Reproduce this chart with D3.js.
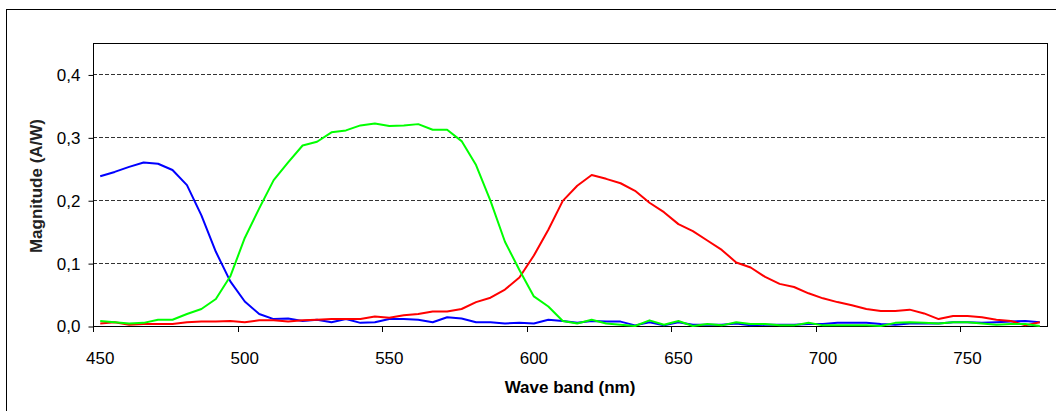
<!DOCTYPE html>
<html>
<head>
<meta charset="utf-8">
<script src="https://cdnjs.cloudflare.com/ajax/libs/d3/7.8.5/d3.min.js"></script>
<style>
  body {margin: 0; background: #fff}
  text {font-family: "Liberation Sans", Arial, sans-serif}
</style>
</head>
<body>
<div id="chart"></div>
<script>
var waveBands = [450, 455, 460, 465, 470, 475, 480, 485, 490, 495,
  500, 505, 510, 515, 520, 525, 530, 535, 540, 545,
  550, 555, 560, 565, 570, 575, 580, 585, 590, 595,
  600, 605, 610, 615, 620, 625, 630, 635, 640, 645,
  650, 655, 660, 665, 670, 675, 680, 685, 690, 695,
  700, 705, 710, 715, 720, 725, 730, 735, 740, 745,
  750, 755, 760, 765, 770, 775]

var blueValues = [0.238, 0.245, 0.253, 0.260, 0.258, 0.248, 0.224, 0.176, 0.118, 0.071,
  0.039, 0.019, 0.011, 0.012, 0.008, 0.010, 0.006, 0.011, 0.005, 0.006,
  0.011, 0.011, 0.010, 0.006, 0.014, 0.012, 0.006, 0.006, 0.004, 0.005,
  0.004, 0.010, 0.008, 0.005, 0.008, 0.007, 0.007, 0.001, 0.006, 0.001,
  0.006, 0.002, 0.002, 0.002, 0.004, 0.001, 0.002, 0.002, 0.002, 0.003,
  0.003, 0.005, 0.005, 0.005, 0.003, 0.002, 0.004, 0.004, 0.004, 0.006,
  0.006, 0.005, 0.006, 0.007, 0.008, 0.006]

var greenValues = [0.008, 0.006, 0.004, 0.005, 0.010, 0.010, 0.019, 0.027, 0.043, 0.079,
  0.140, 0.187, 0.232, 0.260, 0.287, 0.293, 0.308, 0.311, 0.319, 0.322,
  0.318, 0.319, 0.321, 0.312, 0.312, 0.294, 0.256, 0.199, 0.134, 0.089,
  0.047, 0.031, 0.008, 0.004, 0.010, 0.004, 0.002, 0.000, 0.009, 0.002,
  0.008, 0.000, 0.003, 0.001, 0.006, 0.003, 0.003, 0.001, 0.001, 0.005,
  0.001, 0.001, 0.001, 0.001, 0.000, 0.005, 0.006, 0.005, 0.004, 0.006,
  0.006, 0.004, 0.002, 0.003, 0.003, 0.000]

var redValues = [0.004, 0.006, 0.002, 0.003, 0.003, 0.003, 0.006, 0.007, 0.007, 0.008,
  0.006, 0.009, 0.009, 0.007, 0.009, 0.010, 0.011, 0.011, 0.011, 0.015,
  0.013, 0.017, 0.019, 0.023, 0.023, 0.027, 0.038, 0.045, 0.058, 0.077,
  0.112, 0.153, 0.199, 0.223, 0.240, 0.234, 0.227, 0.215, 0.196, 0.181,
  0.162, 0.151, 0.136, 0.121, 0.101, 0.093, 0.078, 0.067, 0.062, 0.052,
  0.044, 0.038, 0.033, 0.027, 0.024, 0.024, 0.026, 0.020, 0.011, 0.016,
  0.016, 0.014, 0.010, 0.008, 0.001, 0.006]

var xTicks = [450, 500, 550, 600, 650, 700, 750]
var yTicks = [0, 0.1, 0.2, 0.3, 0.4]
var yGrid = [0.1, 0.2, 0.3, 0.4]

var series = [
  {name: 'blue', color: '#0000ff', values: blueValues},
  {name: 'red', color: '#ff0000', values: redValues},
  {name: 'green', color: '#00ff00', values: greenValues}
]

var w = 1056, h = 411
var plot = {left: 93, right: 1047, top: 43, bottom: 326}

var svg = d3.select('#chart').append('svg')
    .attr('width', w)
    .attr('height', h)

// outer frame (runs off the right and bottom edges)
svg.append('rect')
    .attr('x', 6.5).attr('y', 9.5)
    .attr('width', 1200).attr('height', 600)
    .attr('fill', 'none').attr('stroke', '#000')

var x = d3.scaleBand().domain(waveBands).range([plot.left, plot.right]).paddingInner(0).paddingOuter(0)
var y = d3.scaleLinear().domain([0, 0.45]).range([plot.bottom, plot.top])
var bw = x.bandwidth()

// dashed grid
svg.append('g').selectAll('line')
  .data(yGrid)
  .enter().append('line')
    .attr('x1', plot.left).attr('x2', plot.right)
    .attr('y1', function(d) {return Math.round(y(d)) + 0.5})
    .attr('y2', function(d) {return Math.round(y(d)) + 0.5})
    .attr('stroke', '#333')
    .attr('stroke-dasharray', '4,2')

// plot frame
svg.append('rect')
    .attr('x', plot.left + 0.5).attr('y', plot.top + 0.5)
    .attr('width', plot.right - plot.left).attr('height', plot.bottom - plot.top)
    .attr('fill', 'none').attr('stroke', '#000')

var fmt = d3.format('.1f')

var yAxis = svg.append('g')
    .attr('transform', 'translate(' + (plot.left + 0.5) + ',0.5)')
    .call(d3.axisLeft(y).tickValues(yTicks).tickSize(5).tickPadding(8)
      .tickFormat(function(d) {return fmt(d).replace('.', ',')}))
yAxis.select('.domain').remove()
yAxis.selectAll('line').attr('stroke', '#000')
yAxis.selectAll('text').attr('font-size', 17).attr('fill', '#000')
    .attr('font-family', '"Liberation Sans", Arial, sans-serif')

var xAxis = svg.append('g')
    .attr('transform', 'translate(0,' + (plot.bottom + 0.5) + ')')
    .call(d3.axisBottom(x).tickValues(xTicks).tickSize(0).tickPadding(25))
xAxis.select('.domain').remove()
xAxis.selectAll('text').attr('font-size', 17).attr('fill', '#000')
    .attr('font-family', '"Liberation Sans", Arial, sans-serif')

// tick marks sit on the category boundaries
svg.append('g').selectAll('line')
  .data(xTicks)
  .enter().append('line')
    .attr('x1', function(d) {return Math.round(x(d)) + 0.5})
    .attr('x2', function(d) {return Math.round(x(d)) + 0.5})
    .attr('y1', plot.bottom).attr('y2', plot.bottom + 6)
    .attr('stroke', '#000')

svg.append('text')
    .attr('x', (plot.left + plot.right) / 2)
    .attr('y', 393)
    .attr('text-anchor', 'middle')
    .attr('font-size', 17)
    .attr('font-weight', 'bold')
    .text('Wave band (nm)')

svg.append('text')
    .attr('transform', 'translate(42,186) rotate(-90)')
    .attr('text-anchor', 'middle')
    .attr('font-size', 17)
    .attr('font-weight', 'bold')
    .attr('fill', '#222')
    .text('Magnitude (A/W)')

var line = d3.line()
    .x(function(d) {return x(d.band) + bw / 2})
    .y(function(d) {return y(d.value)})

svg.append('g').selectAll('path')
  .data(series)
  .enter().append('path')
    .attr('fill', 'none')
    .attr('stroke', function(d) {return d.color})
    .attr('stroke-width', 2)
    .attr('stroke-linejoin', 'round')
    .attr('d', function(s) {
      return line(s.values.map(function(v, i) {return {band: waveBands[i], value: v}}))
    })
</script>
</body>
</html>
